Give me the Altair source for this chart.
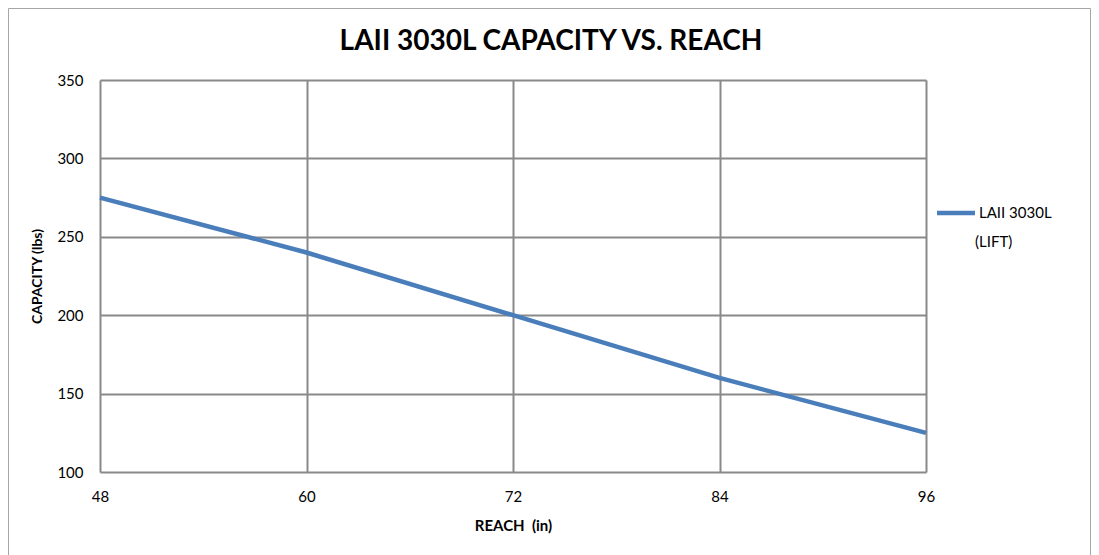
import altair as alt
import pandas as pd

reach = [48, 60, 72, 84, 96]
capacity = [275, 240, 200, 160, 125]
series = "LAII 3030L (LIFT)"
legend_lines = ["LAII 3030L", "(LIFT)"]
title_text = "LAII 3030L CAPACITY VS. REACH"
x_title = "REACH\u00a0\u00a0(in)"
y_title = "CAPACITY (lbs)"
x_ticks = [48, 60, 72, 84, 96]
y_ticks = [100, 150, 200, 250, 300, 350]

df = pd.DataFrame({"REACH": reach, "CAPACITY": capacity, "series": [series] * len(reach)})

FONT = "Lato"
GRID = "#898989"
BLUE = "#4a7ebb"

W, H = 826, 392

one = pd.DataFrame({"a": [0]})

border = alt.Chart(one).mark_rect(fill=None, stroke="#a6a6a6", strokeWidth=1).encode(
    x=alt.value(-91.5), x2=alt.value(990.5), y=alt.value(-71.5), y2=alt.value(480)
)

title = alt.Chart(one).mark_text(
    text=title_text, font=FONT, fontSize=28, fontWeight="bold", color="#000",
    align="center", baseline="alphabetic"
).encode(x=alt.value(451), y=alt.value(-30))

line = alt.Chart(df).mark_line(strokeWidth=4.5, strokeCap="butt", color=BLUE).encode(
    x=alt.X("REACH:Q", scale=alt.Scale(domain=[48, 96], nice=False, zero=False),
            axis=alt.Axis(values=x_ticks, title=x_title, grid=True,
                          gridColor=GRID, gridWidth=2, domain=False, ticks=False,
                          labelFontSize=15, labelPadding=17, labelColor="#000",
                          labelFlush=False,
                          labelFont=FONT, titleFont=FONT, titleFontSize=15,
                          titleFontWeight="bold", titleColor="#000",
                          titlePadding=14)),
    y=alt.Y("CAPACITY:Q", scale=alt.Scale(domain=[100, 350], nice=False, zero=False),
            axis=alt.Axis(values=y_ticks, title=y_title, grid=True,
                          gridColor=GRID, gridWidth=2, domain=False, ticks=False,
                          labelFontSize=15, labelPadding=17, labelColor="#000",
                          labelFlush=False,
                          labelFont=FONT, titleFont=FONT, titleFontSize=14,
                          titleFontWeight="bold", titleColor="#000",
                          titlePadding=12)),
)

leg_line = alt.Chart(one).mark_rule(color=BLUE, strokeWidth=4.5).encode(
    x=alt.value(837), x2=alt.value(875), y=alt.value(133)
)
leg_t1 = alt.Chart(one).mark_text(
    text=legend_lines[0], font=FONT, fontSize=15, color="#000", align="left", baseline="middle"
).encode(x=alt.value(879), y=alt.value(133))
leg_t2 = alt.Chart(one).mark_text(
    text=legend_lines[1], font=FONT, fontSize=15, color="#000", align="left", baseline="middle"
).encode(x=alt.value(875), y=alt.value(162))

chart = alt.layer(border, title, line, leg_line, leg_t1, leg_t2).properties(
    width=W, height=H,
    autosize=alt.AutoSizeParams(type="none"),
    padding={"left": 92, "top": 72, "right": 165, "bottom": 83},
).configure_view(stroke=GRID, strokeWidth=2).configure(background="white")

chart.save("out.html", embed_options={"renderer": "svg", "actions": False})
